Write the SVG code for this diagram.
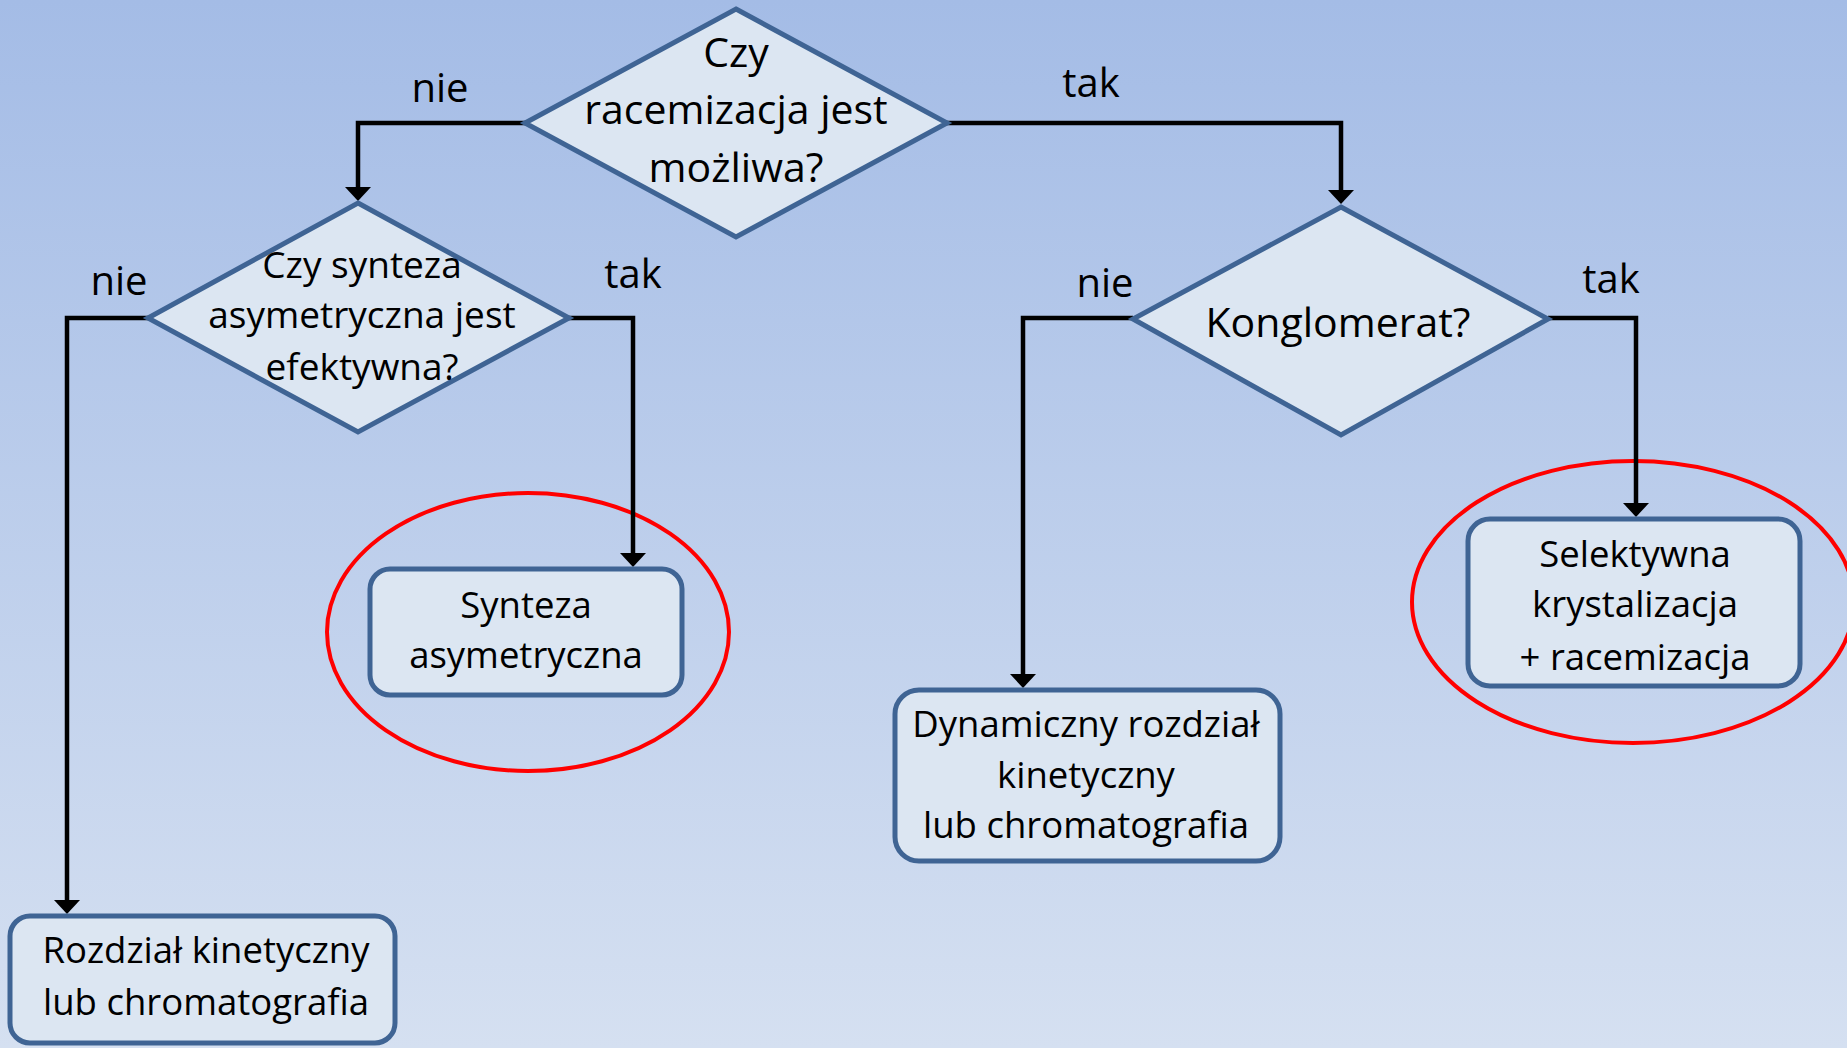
<svg xmlns="http://www.w3.org/2000/svg" width="1847" height="1048" viewBox="0 0 1847 1048">
  <defs>
    <linearGradient id="bg" x1="0" y1="0" x2="0" y2="1">
      <stop offset="0" stop-color="#a4bce6"/>
      <stop offset="1" stop-color="#d5e0f1"/>
    </linearGradient>
    <marker id="arrow" viewBox="0 0 14 26" refX="0" refY="13" markerWidth="14" markerHeight="26" markerUnits="userSpaceOnUse" orient="auto">
      <path d="M0,0 L14,13 L0,26 z" fill="#000"/>
    </marker>
  </defs>
  <style>
    .shape { fill: #dce6f2; stroke: #3f6494; stroke-width: 5; }
    .conn { fill: none; stroke: #000; stroke-width: 4.5; marker-end: url(#arrow); }
    .hl { fill: none; stroke: #ff0000; stroke-width: 4; }
    text { font-family: "Open Sans", "Liberation Sans", sans-serif; fill: #000; text-anchor: middle; }
    .lbl { font-size: 40px; }
    .d1 { font-size: 41px; }
    .d2 { font-size: 37px; }
    .box { font-size: 36.5px; }
  </style>
  <rect x="0" y="0" width="1847" height="1048" fill="url(#bg)"/>

  <g id="highlights">
    <ellipse class="hl" cx="528" cy="632" rx="201" ry="139"/>
    <ellipse class="hl" cx="1633" cy="602" rx="221" ry="141"/>
  </g>

  <g id="connectors">
    <path class="conn" d="M525,123 H358 V187"/>
    <path class="conn" d="M947,123 H1341 V190"/>
    <path class="conn" d="M148,318 H67 V900"/>
    <path class="conn" d="M569,318 H633 V553"/>
    <path class="conn" d="M1133,318 H1023 V674"/>
    <path class="conn" d="M1548,318 H1636 V503"/>
    <text class="lbl" x="440" y="102">nie</text>
    <text class="lbl" x="1091" y="97">tak</text>
    <text class="lbl" x="119" y="295">nie</text>
    <text class="lbl" x="633" y="288">tak</text>
    <text class="lbl" x="1105" y="297">nie</text>
    <text class="lbl" x="1611" y="293">tak</text>
  </g>

  <g id="q-racemizacja">
    <polygon class="shape" points="736,9 947,123 736,237 525,123"/>
    <text class="d1" x="736" y="67">Czy</text>
    <text class="d1" x="736" y="124">racemizacja jest</text>
    <text class="d1" x="736" y="182">możliwa?</text>
  </g>

  <g id="q-synteza">
    <polygon class="shape" points="358,203 569,318 358,432 148,318"/>
    <text class="d2" x="362" y="278">Czy synteza</text>
    <text class="d2" x="362" y="328">asymetryczna jest</text>
    <text class="d2" x="362" y="380">efektywna?</text>
  </g>

  <g id="q-konglomerat">
    <polygon class="shape" points="1341,207 1548,319 1341,435 1133,319"/>
    <text class="d1" x="1338" y="337">Konglomerat?</text>
  </g>

  <g id="n-synteza">
    <rect class="shape" x="370" y="569" width="312" height="126" rx="20"/>
    <text class="box" x="526" y="618">Synteza</text>
    <text class="box" x="526" y="668">asymetryczna</text>
  </g>

  <g id="n-selektywna">
    <rect class="shape" x="1468" y="519" width="332" height="167" rx="22"/>
    <text class="box" x="1635" y="567">Selektywna</text>
    <text class="box" x="1635" y="617">krystalizacja</text>
    <text class="box" x="1635" y="670">+ racemizacja</text>
  </g>

  <g id="n-rozdzial">
    <rect class="shape" x="10" y="916" width="385" height="127" rx="20"/>
    <text class="box" x="206" y="963">Rozdział kinetyczny</text>
    <text class="box" x="206" y="1015">lub chromatografia</text>
  </g>

  <g id="n-dynamiczny">
    <rect class="shape" x="895" y="690" width="385" height="171" rx="24"/>
    <text class="box" x="1086" y="737">Dynamiczny rozdział</text>
    <text class="box" x="1086" y="788">kinetyczny</text>
    <text class="box" x="1086" y="838">lub chromatografia</text>
  </g>
</svg>
